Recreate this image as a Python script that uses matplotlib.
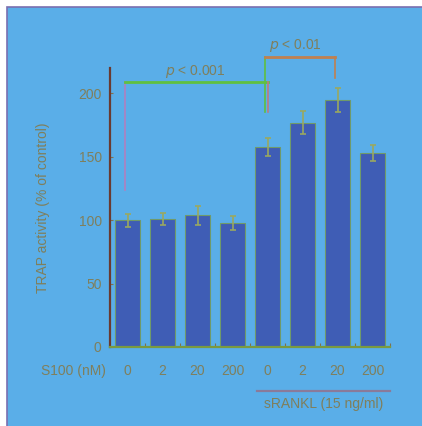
import matplotlib.pyplot as plt
import matplotlib.patches as mpatches
import numpy as np
from matplotlib.transforms import blended_transform_factory

plt.rcParams["font.family"] = ["Liberation Sans", "DejaVu Sans"]

# values
s100_labels = ["0", "2", "20", "200", "0", "2", "20", "200"]
trap_mean = [100, 101, 104, 98, 158, 177, 195, 153]
trap_err = [5, 5, 7.5, 5.5, 7, 9, 9.5, 6.5]
y_ticks = [0, 50, 100, 150, 200]

bg_blue = "#5aaee8"
bar_blue = "#3f5db5"
text_col = "#7f7f5c"
fs = 10

fig = plt.figure(figsize=(4.22, 4.26), dpi=100, facecolor="white")
fig.patches.append(
    mpatches.Rectangle(
        (7 / 422, -0.01), 1.02, 1 - 7 / 426 + 0.01,
        transform=fig.transFigure, facecolor=bg_blue,
        edgecolor="#7a6fb0", linewidth=1.2, zorder=-10,
    )
)

ax = fig.add_axes([110 / 422, 1 - 347 / 426, 280 / 422, 279 / 426])
ax.set_facecolor("none")
ax.set_zorder(5)

x = np.arange(len(trap_mean))
ax.bar(x, trap_mean, width=0.69, color=bar_blue, edgecolor="#6f9a6a",
       linewidth=0.8, zorder=2)
ax.errorbar(x, trap_mean, yerr=trap_err, fmt="none", ecolor="#9aa860",
            elinewidth=1.2, capsize=2.5, capthick=1.2, zorder=3)

ax.set_xlim(-0.5, 7.5)
ax.set_ylim(0, 220)
ax.set_yticks(y_ticks)
ax.set_yticklabels([str(v) for v in y_ticks], color=text_col, fontsize=fs)
ax.tick_params(axis="y", direction="in", length=2, color="#807050", pad=6)
ax.set_xticks(x + 0.5)
ax.set_xticklabels([])
ax.tick_params(axis="x", direction="in", length=3, color="#807050")

for side in ["top", "right"]:
    ax.spines[side].set_visible(False)
ax.spines["left"].set_color("#6a3a30")
ax.spines["left"].set_linewidth(1.6)
ax.spines["bottom"].set_color("#7a9a40")
ax.spines["bottom"].set_linewidth(1.6)

ax.set_ylabel("TRAP activity (% of control)", color=text_col, fontsize=fs)
ax.yaxis.set_label_coords(-0.214, 0.5)

# category labels below the axis
trans = blended_transform_factory(ax.transData, ax.transAxes)
for xi, lab in zip(x, s100_labels):
    ax.text(xi, -0.086, lab, transform=trans, ha="center", va="center",
            color=text_col, fontsize=fs)
ax.text(-1.54, -0.086, "S100 (nM)", transform=trans, ha="center", va="center",
        color=text_col, fontsize=fs)
ax.plot([3.71, 7.49], [-0.157, -0.157], transform=trans, color="#8a7a9a",
        lw=1.6, clip_on=False)
ax.text(5.6, -0.204, "sRANKL (15 ng/ml)", transform=trans, ha="center",
        va="center", color=text_col, fontsize=fs)

# significance brackets
ax.plot([-0.06, -0.06], [124, 209], color="#b080c0", lw=1.2, clip_on=False)
ax.plot([-0.06, 4.0], [209, 209], color="#60c040", lw=2.0, clip_on=False)
ax.plot([4.0, 4.0], [209, 185], color="#c07a80", lw=1.2, clip_on=False)
ax.text(1.95, 217, r"$p$ < 0.001", ha="center", va="center", color=text_col,
        fontsize=fs)

ax.plot([3.92, 3.92], [185, 229], color="#60c040", lw=1.2, clip_on=False)
ax.plot([3.92, 5.92], [229, 229], color="#c08050", lw=2.0, clip_on=False)
ax.plot([5.92, 5.92], [229, 212], color="#c08050", lw=1.2, clip_on=False)
ax.text(4.8, 238, r"$p$ < 0.01", ha="center", va="center", color=text_col,
        fontsize=fs)

fig.savefig("out.png", dpi=100, facecolor="white")
